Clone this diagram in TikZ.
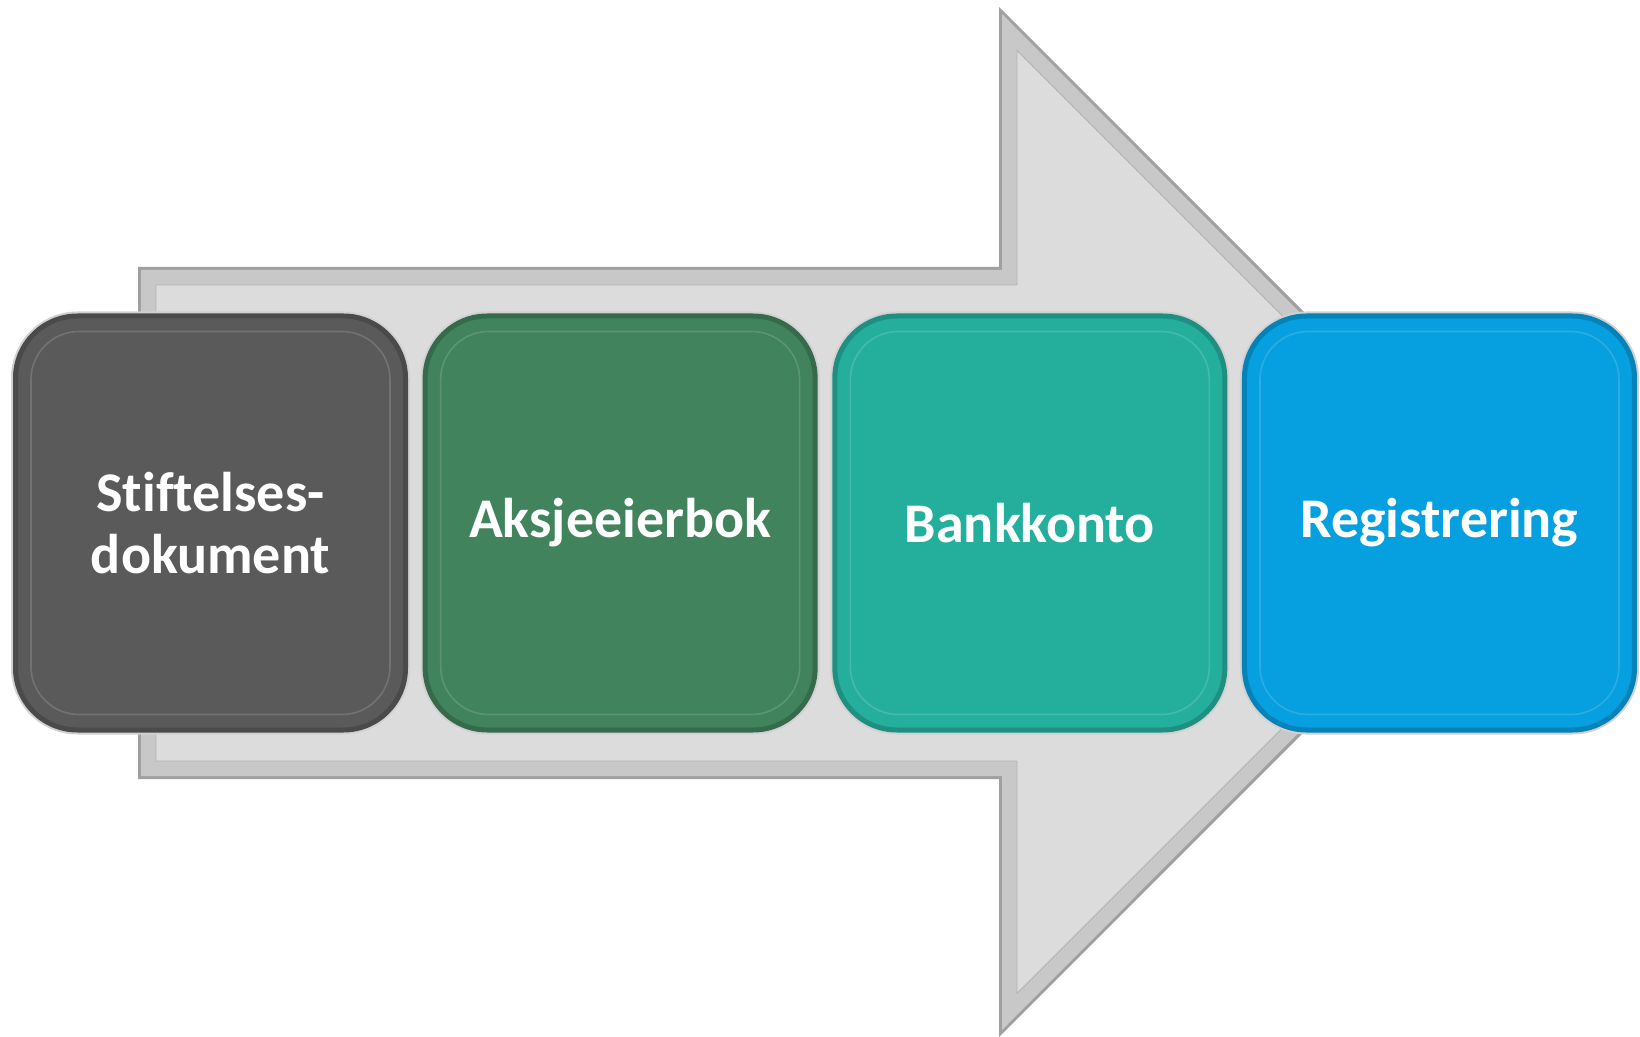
\documentclass[tikz,border=0pt]{standalone}
\usepackage{fontspec}
\setmainfont[Ligatures=NoCommon]{Carlito}
\usepackage{xcolor}
\usepackage{tikz}

\definecolor{arrowgray}{HTML}{DCDCDC}
\definecolor{bandgray}{HTML}{C8C8C8}
\definecolor{edgegray}{HTML}{A0A0A0}
\definecolor{dokgray}{HTML}{5A5A5A}
\definecolor{bokgreen}{HTML}{41835C}
\definecolor{bankteal}{HTML}{24AE9C}
\definecolor{regblue}{HTML}{069FDF}

\tikzset{
  stepbox/.style={rectangle, rounded corners=31pt, minimum width=195pt, minimum height=207pt,
    fill=#1, draw=#1!82!black, line width=2.5pt, preaction={draw=black!18, line width=4.5pt},
    text=white, align=center, font=\fontsize{28}{31}\selectfont\bfseries}
}

\begin{document}
\begin{tikzpicture}[x=0.5pt, y=-0.5pt, node distance=204.83pt]
    \useasboundingbox (0,0) rectangle (1640,1037);
    % big arrow behind the steps
    \fill[edgegray] (138,267) -- (999,267) -- (999,7) -- (1514,522) -- (999,1037) -- (999,779) -- (138,779) -- cycle;
    \fill[bandgray] (141,270) -- (1002,270) -- (1002,14) -- (1509,522) -- (1002,1030) -- (1002,776) -- (141,776) -- cycle;
    \draw[black!30, fill=arrowgray] (156,285) -- (1017,285) -- (1017,50.5) -- (1488.5,522) -- (1017,993.5) -- (1017,761) -- (156,761) -- cycle;

    \node[stepbox=dokgray] (dok) at (210.5,523) {Stiftelses-\\dokument};
    \node[stepbox=bokgreen, right of=dok] (bok) {Aksjeeierbok};
    \node[stepbox=bankteal, right of=bok] (bank) {Bankkonto};
    \node[stepbox=regblue, right of=bank] (reg) {Registrering};

    \foreach \n in {dok,bok,bank,reg}
        \draw[white, opacity=.15, line width=0.8pt, rounded corners=24pt]
            ([shift={(9pt,-9pt)}]\n.north west) rectangle ([shift={(-9pt,9pt)}]\n.south east);
\end{tikzpicture}
\end{document}
